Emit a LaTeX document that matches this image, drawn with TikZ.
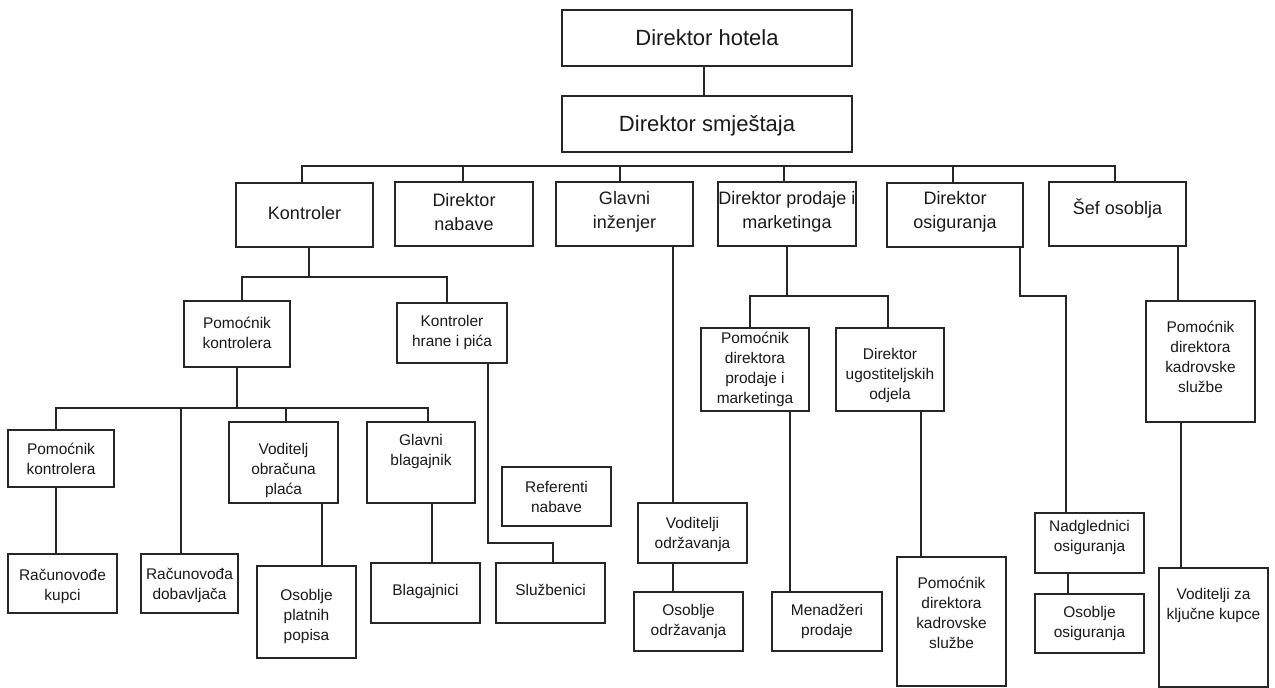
\documentclass[tikz,border=0pt]{standalone}
\usepackage{fontspec}
\setmainfont{Liberation Sans}
\usetikzlibrary{fit,calc}
\tikzset{
  box/.style={draw=black!85, line width=0.9pt, inner sep=0pt, outer sep=0pt, rectangle},
  ln/.style={draw=black!85, line width=0.9pt},
  fa/.style={font=\fontsize{16.5}{20}\selectfont, align=center, inner sep=0pt, text=black!90},
  fb/.style={font=\fontsize{13.5}{17.5}\selectfont, align=center, inner sep=0pt, text=black!90},
  fc/.style={font=\fontsize{11.6}{15}\selectfont, align=center, inner sep=0pt, text=black!90},
}
\newcommand\bx[8]{%
  \node[box, fit={(#2,#3)(#4,#5)}] (#1) {};
  \node[#6] (#1t) at ($(#1.center)+(0,#7)$) {#8};}
\begin{document}
\begin{tikzpicture}[x=0.75pt,y=-0.75pt]
\useasboundingbox (0,0) rectangle (1275,688);
% boxes
\bx{dh}{562}{10}{852}{66}{fa}{0}{Direktor hotela}
\bx{ds}{562}{96}{852}{152}{fa}{2}{Direktor smještaja}
\bx{kon}{236}{183}{373}{247}{fb}{-2}{Kontroler}
\bx{dn}{395}{182}{533}{246}{fb}{-2}{Direktor\\nabave}
\bx{gi}{556}{182}{693}{246}{fb}{-2}{Glavni\\inženjer}
\bx{dp}{718}{182}{856}{246}{fb}{-2}{Direktor prodaje i\\marketinga}
\bx{dos}{887}{183}{1023}{247}{fb}{-3}{Direktor\\osiguranja}
\bx{sef}{1049}{182}{1186}{246}{fb}{-5}{Šef osoblja}
\bx{pk1}{184}{301}{290}{367}{fc}{-1}{Pomoćnik\\kontrolera}
\bx{khp}{397}{303}{507}{363}{fc}{0}{Kontroler\\hrane i pića}
\bx{pdpm}{701}{328}{809}{411}{fc}{0}{Pomoćnik\\direktora\\prodaje i\\marketinga}
\bx{duo}{836}{328}{944}{411}{fc}{5.5}{Direktor\\ugostiteljskih\\odjela}
\bx{pdka}{1146}{301}{1255}{422}{fc}{-4.5}{Pomoćnik\\direktora\\kadrovske\\službe}
\bx{pk2}{8}{430}{114}{487}{fc}{0}{Pomoćnik\\kontrolera}
\bx{vop}{229}{422}{338}{503}{fc}{7.5}{Voditelj\\obračuna\\plaća}
\bx{gb}{367}{422}{475}{503}{fc}{-11}{Glavni\\blagajnik}
\bx{ref}{502}{467}{611}{526}{fc}{0}{Referenti\\nabave}
\bx{vo}{638}{503}{747}{563}{fc}{1.5}{Voditelji\\održavanja}
\bx{rk}{8}{554}{117}{613}{fc}{3}{Računovođe\\kupci}
\bx{rd}{141}{554}{238}{613}{fc}{1.5}{Računovođa\\dobavljača}
\bx{opp}{257}{566}{356}{658}{fc}{4}{Osoblje\\platnih\\popisa}
\bx{bl}{371}{563}{480}{623}{fc}{-2}{Blagajnici}
\bx{sl}{496}{563}{605}{623}{fc}{-3}{Službenici}
\bx{oo}{634}{592}{743}{651}{fc}{0}{Osoblje\\održavanja}
\bx{mp}{772}{592}{882}{651}{fc}{0}{Menadžeri\\prodaje}
\bx{pdkb}{897}{557}{1006}{686}{fc}{-9}{Pomoćnik\\direktora\\kadrovske\\službe}
\bx{nos}{1035}{513}{1144}{573}{fc}{-6}{Nadglednici\\osiguranja}
\bx{oos}{1035}{594}{1144}{653}{fc}{0}{Osoblje\\osiguranja}
\bx{vzk}{1159}{568}{1268}{687}{fc}{-22}{Voditelji za\\ključne kupce}
% connectors
\draw[ln] (dh.south -| 704,0) -- (ds.north -| 704,0);
\coordinate (busL) at (302,166);
\coordinate (busR) at (1115,166);
\draw[ln] (kon.north -| busL) -- (busL) -- (busR) -- (sef.north -| busR);
\draw[ln] (dn.north -| 463,0) -- (busL -| 463,0);
\draw[ln] (gi.north -| 620,0) -- (busL -| 620,0);
\draw[ln] (dp.north -| 784,0) -- (busL -| 784,0);
\draw[ln] (dos.north -| 953,0) -- (busL -| 953,0);
\coordinate (b2) at (309,277);
\draw[ln] (kon.south -| b2) -- (b2);
\draw[ln] (pk1.north -| 242,0) -- (242,277) -- (447,277) -- (khp.north -| 447,0);
\coordinate (b3) at (237,408);
\draw[ln] (pk1.south -| b3) -- (b3);
\draw[ln] (pk2.north -| 56,0) -- (56,408) -- (428,408) -- (gb.north -| 428,0);
\draw[ln] (rd.north -| 181,0) -- (181,408);
\draw[ln] (vop.north -| 286,0) -- (286,408);
\draw[ln] (pk2.south -| 56,0) -- (rk.north -| 56,0);
\draw[ln] (vop.south -| 322,0) -- (opp.north -| 322,0);
\draw[ln] (gb.south -| 432,0) -- (bl.north -| 432,0);
\draw[ln] (khp.south -| 488,0) -- (488,543) -- (553,543) -- (sl.north -| 553,0);
\draw[ln] (gi.south -| 673,0) -- (vo.north -| 673,0);
\draw[ln] (vo.south -| 673,0) -- (oo.north -| 673,0);
\coordinate (b4) at (787,296);
\draw[ln] (dp.south -| b4) -- (b4);
\draw[ln] (pdpm.north -| 750,0) -- (750,296) -- (888,296) -- (duo.north -| 888,0);
\draw[ln] (pdpm.south -| 790,0) -- (mp.north -| 790,0);
\draw[ln] (duo.south -| 921,0) -- (pdkb.north -| 921,0);
\draw[ln] (dos.south -| 1020,0) -- (1020,296) -- (1066,296) -- (nos.north -| 1066,0);
\draw[ln] (nos.south -| 1068,0) -- (oos.north -| 1068,0);
\draw[ln] (sef.south -| 1178,0) -- (pdka.north -| 1178,0);
\draw[ln] (pdka.south -| 1181,0) -- (vzk.north -| 1181,0);
\end{tikzpicture}
\end{document}
